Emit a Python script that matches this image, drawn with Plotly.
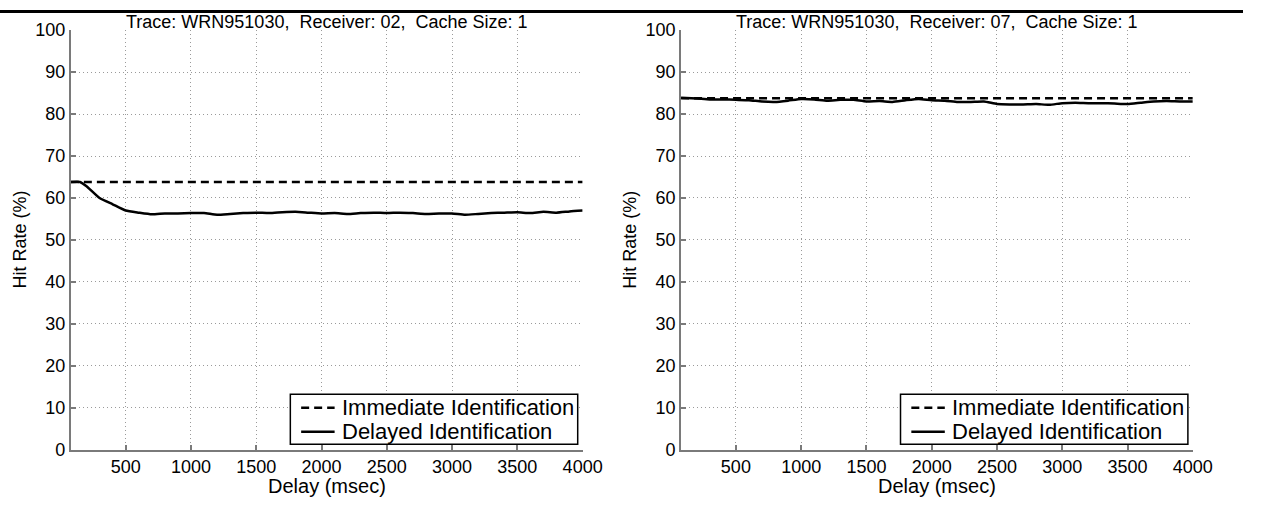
import plotly.graph_objects as go

# Delay values (msec) at which the hit rates were sampled
delay_left = [80, 150, 200, 300, 400, 500, 600, 700, 800, 900, 1000, 1100, 1200, 1300,
              1400, 1500, 1600, 1700, 1800, 1900, 2000, 2100, 2200, 2300, 2400, 2500,
              2600, 2700, 2800, 2900, 3000, 3100, 3200, 3300, 3400, 3500, 3600, 3700,
              3800, 3900, 4000]
delayed_left = [63.8, 63.8, 62.8, 60.0, 58.5, 57.0, 56.5, 56.1, 56.3, 56.3, 56.4, 56.4,
                56.0, 56.2, 56.4, 56.5, 56.4, 56.6, 56.7, 56.5, 56.3, 56.4, 56.2, 56.4,
                56.5, 56.4, 56.5, 56.4, 56.2, 56.3, 56.3, 56.0, 56.2, 56.4, 56.5, 56.6,
                56.4, 56.7, 56.5, 56.8, 57.0]
immediate_left = 63.8

delay_right = [80, 200, 300, 400, 500, 600, 700, 800, 900, 1000, 1100, 1200, 1300, 1400,
               1500, 1600, 1700, 1800, 1900, 2000, 2100, 2200, 2300, 2400, 2500, 2600,
               2700, 2800, 2900, 3000, 3100, 3200, 3300, 3400, 3500, 3600, 3700, 3800,
               3900, 4000]
delayed_right = [83.9, 83.7, 83.5, 83.5, 83.4, 83.3, 83.0, 82.9, 83.2, 83.6, 83.5, 83.2,
                 83.4, 83.4, 83.0, 83.1, 82.9, 83.3, 83.6, 83.3, 83.2, 82.9, 82.9, 83.0,
                 82.4, 82.3, 82.3, 82.4, 82.2, 82.6, 82.7, 82.6, 82.6, 82.5, 82.4, 82.7,
                 83.0, 83.1, 83.0, 83.0]
immediate_right = 83.8

titles = ["Trace: WRN951030,  Receiver: 02,  Cache Size: 1",
          "Trace: WRN951030,  Receiver: 07,  Cache Size: 1"]
legend_names = ["Immediate Identification", "Delayed Identification"]
x_ticks = [500, 1000, 1500, 2000, 2500, 3000, 3500, 4000]
y_ticks = [0, 10, 20, 30, 40, 50, 60, 70, 80, 90, 100]
x_range = [80, 4000]

W, H = 1263, 508
FONT = "Liberation Sans, Arial, Helvetica, sans-serif"
AXIS_GRAY = "#7a7a7a"
GRID_GRAY = "#9a9a9a"
DASH = "8px,5px"

def px(x):
    return x / W

def py(y):
    return 1 - y / H

panels = [
    dict(xa="x", ya="y", dom=(72, 592), delay=delay_left, delayed=delayed_left,
         immediate=immediate_left),
    dict(xa="x2", ya="y2", dom=(692, 1212), delay=delay_right, delayed=delayed_right,
         immediate=immediate_right),
]
y_top, y_bot = 21, 457.7

fig = go.Figure()
for p in panels:
    fig.add_trace(go.Scatter(
        x=x_range, y=[p["immediate"]] * 2, mode="lines", name=legend_names[0],
        line=dict(color="black", width=2.5, dash=DASH),
        xaxis=p["xa"], yaxis=p["ya"], showlegend=False))
    fig.add_trace(go.Scatter(
        x=p["delay"], y=p["delayed"], mode="lines", name=legend_names[1],
        line=dict(color="black", width=2.5, shape="spline", smoothing=0.5),
        xaxis=p["xa"], yaxis=p["ya"], showlegend=False))

axis_common = dict(
    showline=True, linecolor=AXIS_GRAY, linewidth=2, mirror=False,
    ticks="inside", ticklen=5, tickwidth=1.5, tickcolor=AXIS_GRAY,
    showgrid=True, gridcolor=GRID_GRAY, griddash="1px,3px", gridwidth=1,
    zeroline=False, tickfont=dict(family=FONT, size=18, color="black"),
)

layout = dict(
    width=W, height=H, margin=dict(l=0, r=0, t=0, b=0),
    paper_bgcolor="white", plot_bgcolor="white",
    font=dict(family=FONT, size=18, color="black"),
    showlegend=False,
)

annotations = []
# heavy rule across the top edge
shapes = [dict(type="rect", xref="paper", yref="paper", x0=0, x1=1,
               y0=py(3), y1=1, fillcolor="black", line=dict(width=0))]

for i, p in enumerate(panels):
    suffix = "" if i == 0 else "2"
    left, right = p["dom"]
    layout["xaxis" + suffix] = dict(
        axis_common, domain=[px(left), px(right)], range=x_range,
        tickvals=x_ticks, anchor="y" + suffix)
    layout["yaxis" + suffix] = dict(
        axis_common, domain=[py(y_bot), py(y_top)], range=[0, 100],
        tickvals=y_ticks, anchor="x" + suffix)
    mid = (left + right) / 2
    annotations.append(dict(text=titles[i], xref="paper", yref="paper", x=px(mid),
                            y=py(12), xanchor="center", yanchor="middle",
                            showarrow=False, font=dict(family=FONT, size=18)))
    annotations.append(dict(text="Delay (msec)", xref="paper", yref="paper", x=px(mid),
                            y=py(495), xanchor="center", yanchor="middle",
                            showarrow=False, font=dict(family=FONT, size=20)))
    annotations.append(dict(text="Hit Rate (%)", xref="paper", yref="paper",
                            x=px(left - 52), y=py((y_top + y_bot) / 2),
                            xanchor="center", yanchor="middle", textangle=-90,
                            showarrow=False, font=dict(family=FONT, size=18)))

    # legend box in the lower right corner of each panel
    bx0, bx1 = right - 297, right - 5
    by0, by1 = 400, 452
    shapes.append(dict(type="rect", xref="paper", yref="paper",
                       x0=px(bx0), x1=px(bx1), y0=py(by1), y1=py(by0),
                       fillcolor="white", line=dict(color="black", width=1.5)))
    for row, (name, dash) in enumerate(zip(legend_names, [DASH, "solid"])):
        yc = 414 + row * 25
        shapes.append(dict(type="line", xref="paper", yref="paper",
                           x0=px(bx0 + 11), x1=px(bx0 + 45), y0=py(yc), y1=py(yc),
                           line=dict(color="black", width=2.5, dash=dash)))
        annotations.append(dict(text=name, xref="paper", yref="paper",
                                x=px(bx0 + 50), y=py(yc), xanchor="left",
                                yanchor="middle", showarrow=False,
                                font=dict(family=FONT, size=22)))

layout["annotations"] = annotations
layout["shapes"] = shapes
fig.update_layout(**layout)
fig.write_html("out.html")
